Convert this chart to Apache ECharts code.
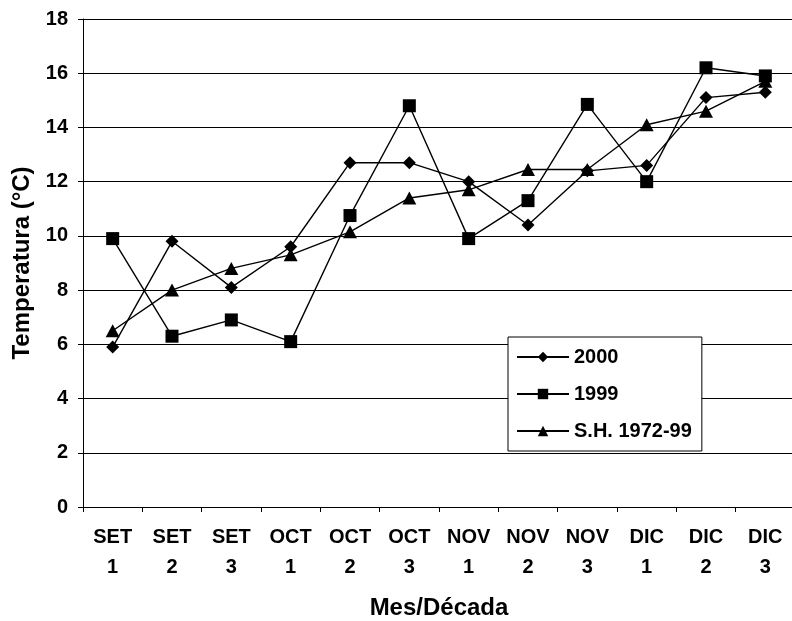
<!DOCTYPE html>
<html>
<head>
<meta charset="utf-8">
<script src="https://cdn.jsdelivr.net/npm/echarts@6/dist/echarts.min.js"></script>
<style>
html,body{margin:0;padding:0;background:#fff;}
#chart{width:792px;height:621px;}
</style>
</head>
<body>
<div id="chart"></div>
<script>
var months = ['SET','SET','SET','OCT','OCT','OCT','NOV','NOV','NOV','DIC','DIC','DIC'];
var decades = ['1','2','3','1','2','3','1','2','3','1','2','3'];
var categories = months.map(function(m,i){ return m + '\n' + decades[i]; });
var s2000 = [5.9, 9.8, 8.1, 9.6, 12.7, 12.7, 12.0, 10.4, 12.4, 12.6, 15.1, 15.3];
var s1999 = [9.9, 6.3, 6.9, 6.1, 10.75, 14.8, 9.9, 11.3, 14.85, 12.0, 16.2, 15.9];
var sSH = [6.5, 8.0, 8.8, 9.3, 10.15, 11.4, 11.7, 12.45, 12.45, 14.1, 14.6, 15.7];
var yTicks = [0, 2, 4, 6, 8, 10, 12, 14, 16, 18];

var FONT = 'Liberation Sans, Arial, sans-serif';
var chart = echarts.init(document.getElementById('chart'), null, {renderer:'canvas'});
function mk(name, data, symbol, size){
  return {
    name: name, type: 'line', data: data,
    symbol: symbol, symbolSize: size,
    itemStyle: {color:'#000'},
    lineStyle: {color:'#000', width:1.4},
    animation: false
  };
}
chart.setOption({
  animation: false,
  backgroundColor: '#fff',
  grid: {left:83, top:19, width:712, height:488, outerBoundsMode:'none', containLabel:false},
  xAxis: {
    type:'category', data: categories, boundaryGap:true,
    name:'Mes/Década', nameLocation:'middle', nameGap:89,
    nameTextStyle:{fontFamily:FONT, fontWeight:'bold', fontSize:24, color:'#000'},
    axisLine:{show:true, lineStyle:{color:'#000', width:1}},
    axisTick:{show:true, length:5, alignWithLabel:false, interval:0, lineStyle:{color:'#000'}},
    axisLabel:{interval:0, margin:15, fontFamily:FONT, fontWeight:'bold', fontSize:20, lineHeight:30, color:'#000'},
    splitLine:{show:false}
  },
  yAxis: {
    type:'value', min:yTicks[0], max:yTicks[yTicks.length-1], interval:yTicks[1]-yTicks[0],
    name:'Temperatura (°C)', nameLocation:'middle', nameGap:47, nameRotate:90,
    nameTextStyle:{fontFamily:FONT, fontWeight:'bold', fontSize:24, color:'#000'},
    axisLine:{show:true, lineStyle:{color:'#000', width:1}},
    axisTick:{show:true, length:5, lineStyle:{color:'#000'}},
    axisLabel:{margin:15, fontFamily:FONT, fontWeight:'bold', fontSize:20, color:'#000'},
    splitLine:{show:true, lineStyle:{color:'#000', width:1}}
  },
  legend: {
    orient:'vertical', left:508, top:337,
    backgroundColor:'#fff', borderColor:'#000', borderWidth:1,
    padding:[10, 10, 10, 8], itemGap:17, itemWidth:52, itemHeight:13,
    textStyle:{fontFamily:FONT, fontWeight:'bold', fontSize:20, color:'#000'},
    data:['2000','1999','S.H. 1972-99']
  },
  series: [
    mk('2000', s2000, 'diamond', [13,13]),
    mk('1999', s1999, 'rect', 13),
    mk('S.H. 1972-99', sSH, 'triangle', [14,13])
  ]
});
</script>
</body>
</html>
